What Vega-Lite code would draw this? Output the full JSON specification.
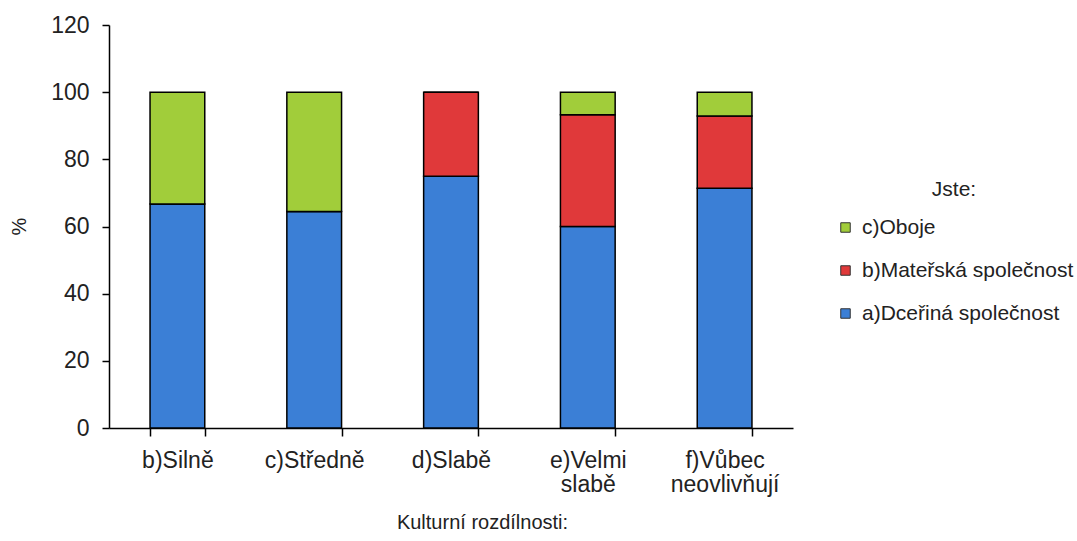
{
  "$schema": "https://vega.github.io/schema/vega-lite/v6.json",
  "width": 684,
  "height": 403,
  "autosize": {"type": "none"},
  "padding": {"left": 109, "top": 25, "right": 284, "bottom": 113},
  "background": "white",
  "config": {
    "view": {"stroke": null},
    "font": "Liberation Sans",
    "axis": {"labelFont": "Liberation Sans", "titleFont": "Liberation Sans", "labelColor": "#222", "titleColor": "#222", "domainColor": "#000", "tickColor": "#000", "titleFontWeight": "normal", "domainWidth": 1.5, "tickWidth": 1.5},
    "legend": {"labelFont": "Liberation Sans", "titleFont": "Liberation Sans"}
  },
  "data": {
    "values": [
      {"kultura": "b)Silně", "Jste": "a)Dceřiná společnost", "procento": 66.7},
      {"kultura": "b)Silně", "Jste": "b)Mateřská společnost", "procento": 0},
      {"kultura": "b)Silně", "Jste": "c)Oboje", "procento": 33.3},
      {"kultura": "c)Středně", "Jste": "a)Dceřiná společnost", "procento": 64.5},
      {"kultura": "c)Středně", "Jste": "b)Mateřská společnost", "procento": 0},
      {"kultura": "c)Středně", "Jste": "c)Oboje", "procento": 35.5},
      {"kultura": "d)Slabě", "Jste": "a)Dceřiná společnost", "procento": 75},
      {"kultura": "d)Slabě", "Jste": "b)Mateřská společnost", "procento": 25},
      {"kultura": "d)Slabě", "Jste": "c)Oboje", "procento": 0},
      {"kultura": "e)Velmi slabě", "Jste": "a)Dceřiná společnost", "procento": 60},
      {"kultura": "e)Velmi slabě", "Jste": "b)Mateřská společnost", "procento": 33.3},
      {"kultura": "e)Velmi slabě", "Jste": "c)Oboje", "procento": 6.7},
      {"kultura": "f)Vůbec neovlivňují", "Jste": "a)Dceřiná společnost", "procento": 71.4},
      {"kultura": "f)Vůbec neovlivňují", "Jste": "b)Mateřská společnost", "procento": 21.5},
      {"kultura": "f)Vůbec neovlivňují", "Jste": "c)Oboje", "procento": 7.1}
    ]
  },
  "mark": {"type": "bar", "stroke": "#000", "strokeWidth": 1.5},
  "encoding": {
    "x": {
      "field": "kultura",
      "type": "nominal",
      "sort": null,
      "scale": {"paddingInner": 0.6, "paddingOuter": 0.3},
      "axis": {
        "title": "Kulturní rozdílnosti:",
        "titleFontSize": 20,
        "titleX": 373,
        "titleY": 84,
        "labelAngle": 0,
        "labelFontSize": 23,
        "labelExpr": "split(datum.label, ' ')",
        "labelLineHeight": 24,
        "labelPadding": 13,
        "tickBand": "extent",
        "tickSize": 8
      }
    },
    "y": {
      "field": "procento",
      "type": "quantitative",
      "stack": "zero",
      "scale": {"domain": [0, 120]},
      "axis": {
        "title": "%",
        "titleFontSize": 20,
        "titleX": -80,
        "titleY": 201,
        "values": [0, 20, 40, 60, 80, 100, 120],
        "grid": false,
        "labelFontSize": 23,
        "tickSize": 7,
        "labelPadding": 13
      }
    },
    "color": {
      "field": "Jste",
      "type": "nominal",
      "scale": {
        "domain": ["c)Oboje", "b)Mateřská společnost", "a)Dceřiná společnost"],
        "range": ["#a1cd3a", "#e0393a", "#3b7fd6"]
      },
      "legend": {
        "title": "Jste:",
        "orient": "none",
        "legendX": 726,
        "legendY": 154,
        "titleFontSize": 21,
        "titleFontWeight": "normal",
        "titleColor": "#222",
        "titleAnchor": "middle",
        "titlePadding": 17,
        "labelFontSize": 21,
        "labelColor": "#222",
        "labelLimit": 400,
        "symbolType": "square",
        "symbolSize": 90,
        "symbolStrokeColor": "#333",
        "symbolStrokeWidth": 1,
        "rowPadding": 21,
        "labelOffset": 6
      }
    },
    "order": {"field": "Jste", "type": "nominal", "sort": "ascending"}
  }
}
